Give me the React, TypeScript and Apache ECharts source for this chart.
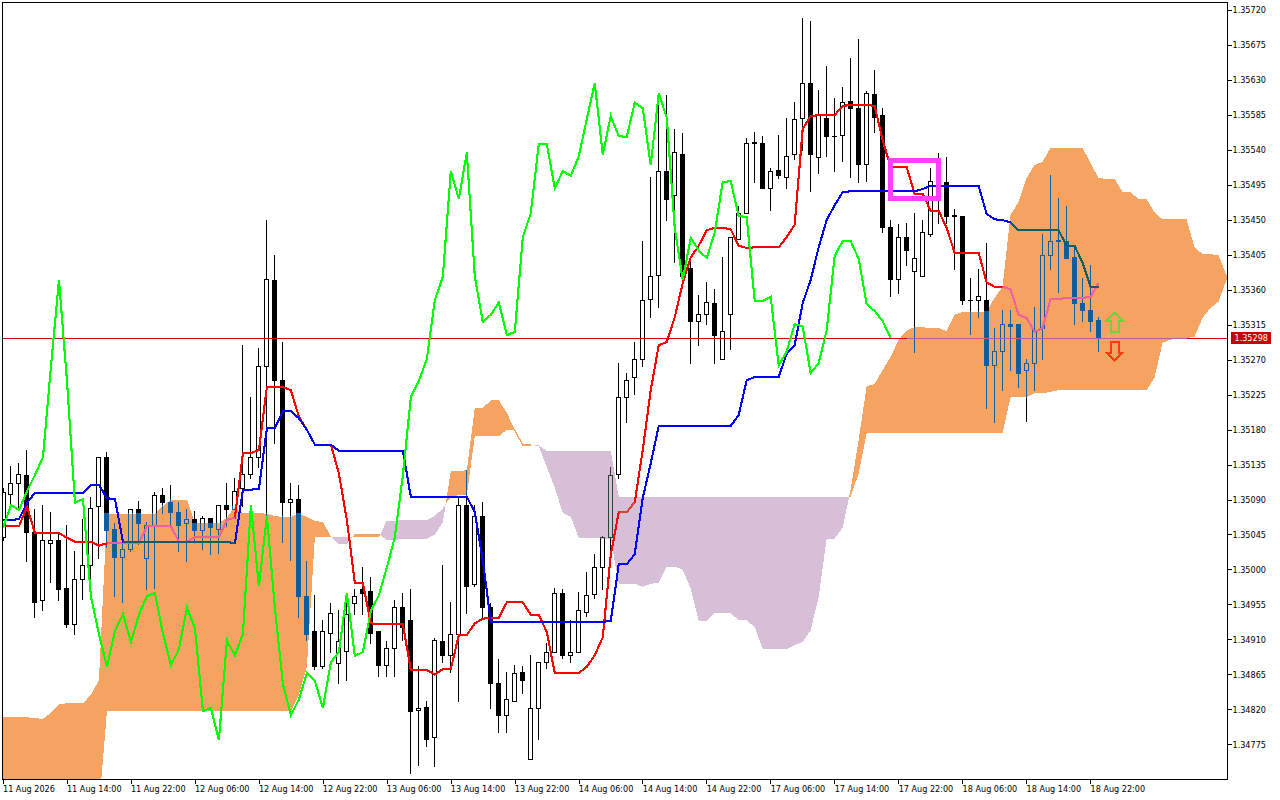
import React, { useEffect, useRef } from "react";
import * as echarts from "echarts";

// All price arrays are in points: price = 1 + value / 100000 (35042 is 1.35042).
const opensPts = [
  35042,35097,35111,35121,35048,34960,35034,35037,34976,34929,
  34988,35006,35081,35145,35052,35016,35026,35078,35015,35057,
  35096,35087,35074,35059,35064,35050,35066,35052,35083,35078,
  35104,35122,35145,35261,35372,35243,35086,35090,34966,34920,
  34875,34918,34879,34895,34957,34975,34972,34920,34877,34898,
  34951,34935,34819,34823,34784,34908,34890,34917,35083,34981,
  35069,34952,34854,34813,34831,34868,34756,34821,34881,34894,
  34970,34889,34894,34945,34968,35003,35042,35122,35222,35247,
  35271,35348,35379,35513,35482,35535,35388,35320,35328,35343,
  35271,35328,35425,35459,35550,35549,35491,35514,35505,35534,
  35581,35626,35531,35581,35558,35559,35602,35594,35522,35612,
  35584,35440,35373,35427,35384,35377,35432,35498,35498,35456,
  35455,35347,35346,35347,35263,35281,35316,35316,35256,35266,
  35310,35405,35424,35423,35402,35342,35334,35321,
];
const highsPts = [
  35105,35133,35137,35154,35078,35082,35073,35048,35057,35023,
  35065,35093,35145,35151,35060,35034,35078,35088,35061,35099,
  35104,35109,35087,35077,35075,35069,35066,35083,35111,35118,
  35289,35222,35285,35449,35405,35293,35111,35109,35011,34967,
  34934,34957,34947,34967,34974,35003,34990,34920,34908,34961,
  34970,34974,34875,34831,34911,35005,34958,35093,35128,35083,
  35087,34957,34885,34868,34877,34876,34890,34881,34905,34976,
  34974,34935,34971,34996,35020,35043,35131,35266,35253,35292,
  35423,35505,35601,35610,35567,35562,35396,35353,35369,35361,
  35402,35428,35468,35555,35563,35558,35517,35559,35581,35601,
  35709,35706,35617,35647,35606,35620,35658,35683,35615,35643,
  35594,35449,35444,35446,35459,35450,35516,35536,35531,35464,
  35455,35375,35387,35420,35310,35334,35333,35316,35271,35338,
  35432,35507,35478,35468,35417,35375,35392,35324,
];
const lowsPts = [
  35038,35081,35077,35010,34939,34947,34983,34960,34926,34916,
  34962,34983,35014,35029,34965,34958,35023,35032,34975,34976,
  35072,35056,35023,35011,35035,35026,35019,35021,35055,35078,
  35081,35117,35132,35070,35163,35035,35012,34939,34909,34871,
  34873,34894,34854,34858,34942,34942,34905,34862,34862,34862,
  34909,34738,34748,34772,34747,34880,34868,34830,34943,34978,
  34936,34822,34790,34790,34830,34841,34756,34782,34873,34894,
  34886,34881,34893,34940,34963,34975,35025,35118,35190,35225,
  35261,35324,35337,35450,35395,35373,35266,35289,35315,35266,
  35270,35283,35425,35459,35498,35490,35462,35503,35491,35528,
  35540,35487,35510,35532,35512,35525,35505,35498,35499,35563,
  35434,35352,35355,35391,35279,35377,35429,35446,35446,35386,
  35341,35303,35324,35207,35189,35230,35257,35235,35191,35230,
  35270,35386,35357,35400,35316,35319,35306,35281,
];
const closesPts = [
  35099,35111,35122,35048,34958,35037,35038,34975,34929,34988,
  35005,35079,35145,35050,35016,35026,35078,35059,35057,35096,
  35086,35073,35057,35064,35050,35066,35054,35083,35077,35101,
  35122,35145,35262,35373,35243,35086,35091,34965,34917,34875,
  34921,34943,34907,34942,34966,34970,34918,34877,34898,34951,
  34925,34818,34822,34781,34909,34890,34917,35083,34979,35069,
  34951,34853,34813,34833,34867,34857,34822,34881,34894,34970,
  34889,34894,34947,34967,35003,35042,35121,35222,35243,35271,
  35347,35377,35513,35477,35537,35377,35319,35328,35344,35302,
  35306,35428,35459,35548,35548,35491,35513,35507,35532,35580,
  35626,35534,35584,35558,35557,35601,35594,35521,35613,35582,
  35440,35373,35427,35411,35401,35434,35499,35500,35455,35454,
  35346,35346,35351,35263,35281,35316,35313,35253,35266,35308,
  35404,35423,35423,35400,35342,35333,35320,35298,
];
const tenkanPts = [
  35056,35056,35056,35081,35047,35047,35047,35047,35041,35036,
  35036,35036,35031,35034,35034,35034,35034,35034,35056,35056,
  35056,35056,35036,35036,35042,35042,35042,35042,35064,35067,
  35150,35150,35154,35235,35235,35235,35231,35197,35180,35161,
  35161,35161,35124,35064,34983,34983,34931,34930,34930,34930,
  34930,34871,34871,34871,34865,34872,34872,34916,34916,34931,
  34937,34938,34938,34958,34958,34958,34942,34942,34920,34867,
  34867,34867,34867,34875,34890,34913,35019,35074,35074,35087,
  35154,35231,35289,35293,35325,35369,35402,35417,35437,35440,
  35440,35438,35417,35414,35415,35415,35415,35415,35428,35444,
  35567,35584,35585,35585,35585,35597,35598,35598,35598,35597,
  35553,35518,35518,35518,35484,35484,35462,35462,35440,35408,
  35408,35408,35408,35370,35364,35364,35361,35328,35324,35306,
  35311,35348,35348,35350,35350,35350,35351,35369,
];
const kijunPts = [
  35064,35064,35065,35086,35099,35099,35099,35099,35099,35099,
  35099,35109,35109,35092,35091,35036,35036,35036,35036,35036,
  35036,35036,35036,35036,35036,35036,35036,35036,35036,35034,
  35103,35103,35104,35182,35182,35204,35204,35195,35180,35161,
  35161,35161,35153,35153,35153,35153,35153,35153,35153,35153,
  35153,35094,35094,35094,35094,35094,35094,35094,35094,35074,
  35012,34933,34933,34933,34933,34933,34933,34933,34933,34933,
  34933,34933,34933,34933,34933,34933,34934,35007,35007,35020,
  35092,35137,35185,35185,35185,35185,35185,35185,35185,35185,
  35185,35185,35199,35244,35248,35248,35248,35248,35278,35289,
  35343,35373,35415,35450,35469,35486,35487,35487,35487,35487,
  35487,35487,35487,35487,35487,35490,35494,35494,35494,35494,
  35494,35494,35494,35458,35451,35450,35447,35437,35437,35437,
  35437,35437,35437,35417,35417,35395,35364,35364,
];
const spanAPts = [
  34810,34810,34810,34810,34809,34808,34816,34827,34828,34828,
  34828,34839,34858,35072,35072,35072,35072,35072,35072,35072,
  35082,35090,35090,35090,35060,35060,35060,35060,35067,35081,
  35073,35073,35073,35072,35069,35068,35068,35072,35068,35063,
  35061,35043,35033,35033,35046,35046,35046,35046,35038,35038,
  35040,35040,35040,35040,35045,35061,35127,35127,35128,35208,
  35208,35218,35218,35202,35180,35161,35161,35159,35132,35106,
  35073,35068,35041,35041,35041,35040,35040,34982,34982,34982,
  34978,34982,34983,35004,35004,35000,34976,34934,34934,34944,
  34944,34944,34935,34935,34926,34898,34898,34898,34898,34903,
  34907,34922,34965,35040,35040,35054,35103,35167,35236,35239,
  35257,35274,35296,35308,35312,35312,35311,35311,35307,35328,
  35332,35332,35332,35332,35350,35364,35457,35473,35504,35521,
  35525,35543,35543,35543,35543,35543,35523,35504,35503,35503,
  35486,35486,35477,35477,35460,35451,35451,35451,35451,35415,
  35406,35406,35405,35379,
];
const spanBPts = [
  34688,34688,34688,34688,34688,34688,34688,34688,34688,34688,
  34688,34688,34693,34818,34818,34818,34818,34818,34818,34818,
  34818,34818,34818,34818,34818,34818,34818,34818,34818,34818,
  34818,34818,34818,34818,34818,34818,34818,34839,34875,35042,
  35042,35042,35042,35042,35042,35042,35042,35042,35063,35063,
  35064,35064,35064,35064,35069,35079,35094,35096,35096,35172,
  35172,35172,35172,35180,35179,35160,35160,35160,35153,35153,
  35153,35153,35153,35153,35153,35153,35153,35094,35094,35094,
  35094,35094,35094,35094,35094,35094,35094,35094,35094,35094,
  35094,35094,35094,35094,35094,35094,35094,35094,35094,35094,
  35094,35094,35094,35094,35094,35094,35094,35124,35176,35176,
  35176,35176,35176,35176,35176,35176,35176,35176,35176,35176,
  35176,35176,35176,35176,35176,35176,35222,35222,35222,35227,
  35227,35229,35231,35231,35231,35231,35231,35231,35231,35231,
  35231,35231,35231,35231,35247,35292,35296,35298,35298,35300,
  35324,35337,35345,35373,
];
const yTickPts = [
  35720,35675,35630,35585,35540,35495,35450,35405,35360,35315,35270,
  35225,35180,35135,35090,35045,35000,34955,34910,34865,34820,34775,
];
const xTickLabels = [
  "11 Aug 2026","11 Aug 14:00","11 Aug 22:00","12 Aug 06:00","12 Aug 14:00","12 Aug 22:00",
  "13 Aug 06:00","13 Aug 14:00","13 Aug 22:00","14 Aug 06:00","14 Aug 14:00","14 Aug 22:00",
  "17 Aug 06:00","17 Aug 14:00","17 Aug 22:00","18 Aug 06:00","18 Aug 14:00","18 Aug 22:00",
];
const lastPricePts = 35298;
const highlightBox = { from: 111, to: 117, top: 35527, bottom: 35478 };
const upArrow = { at: 139, tip: 35331 };
const downArrow = { at: 139, tip: 35269 };

const toPrice = (v: number) => 1 + v / 100000;
const opens = opensPts.map(toPrice);
const highs = highsPts.map(toPrice);
const lows = lowsPts.map(toPrice);
const closes = closesPts.map(toPrice);
const tenkan = tenkanPts.map(toPrice);
const kijun = kijunPts.map(toPrice);
const spanA = spanAPts.map(toPrice);
const spanB = spanBPts.map(toPrice);
const chikou = closes.slice(26);
const yTicks = yTickPts.map(toPrice);
const lastPrice = toPrice(lastPricePts);
const BARS = spanA.length;
const categories = spanA.map((_, i) => String(i));

const ORANGE = "#F4A460";
const THISTLE = "#D8BFD8";
const FONT = "'DejaVu Sans Condensed', 'DejaVu Sans', sans-serif";
const LINE_W = 2.1;

const zoneAt = (i: number, price: number) => {
  const a = spanA[i];
  const b = spanB[i];
  if (price <= Math.max(a, b) && price >= Math.min(a, b)) return a >= b ? "orange" : "thistle";
  return null;
};
const inZone = (vals: number[], zone: string) =>
  vals.map((v, i) => (zoneAt(i, v) === zone ? v : null));

const lineSeries = (name: string, data: any[], color: string, width: number, z: number) => ({
  name,
  type: "line",
  data,
  z,
  silent: true,
  symbol: "none",
  showSymbol: false,
  connectNulls: false,
  lineStyle: { color, width, cap: "butt", join: "miter" },
});

function renderCloud(_: any, api: any) {
  const i = api.value(0);
  const a0 = spanA[i], b0 = spanB[i], a1 = spanA[i + 1], b1 = spanB[i + 1];
  const P = (k: number, v: number) => api.coord([k, v]);
  const poly = (pts: number[][], color: string, thin: boolean) => ({
    type: "polygon",
    shape: { points: pts },
    style: { fill: color, stroke: thin ? color : "none", lineWidth: thin ? 1 : 0 },
  });
  const d0 = a0 - b0, d1 = a1 - b1;
  const thin = Math.abs(d0) < 0.00004 && Math.abs(d1) < 0.00004;
  if (d0 * d1 < 0) {
    const t = d0 / (d0 - d1);
    const p0 = P(i, a0), p1 = P(i, b0), q0 = P(i + 1, a1), q1 = P(i + 1, b1);
    const mx = p0[0] + (q0[0] - p0[0]) * t;
    const my = p0[1] + (q0[1] - p0[1]) * t;
    return {
      type: "group",
      children: [
        poly([p0, [mx, my], p1], d0 > 0 ? ORANGE : THISTLE, false),
        poly([[mx, my], q0, q1], d1 > 0 ? ORANGE : THISTLE, false),
      ],
    };
  }
  const color = d0 + d1 >= 0 ? ORANGE : THISTLE;
  return poly([P(i, a0), P(i + 1, a1), P(i + 1, b1), P(i, b0)], color, thin);
}

function renderCandle(_: any, api: any) {
  const i = api.value(0);
  const o = opens[i], c = closes[i], l = lows[i], h = highs[i];
  const Y = (v: number) => Math.round(api.coord([i, v])[1] - 0.5);
  const px = Math.floor(api.coord([i, o])[0]);
  const cloudTop = Y(Math.max(spanA[i], spanB[i]));
  const cloudBot = Y(Math.min(spanA[i], spanB[i])) + 1;
  const inside = spanA[i] >= spanB[i] ? "#0F5FA0" : "#2C4236";
  const kids: any[] = [];
  const rect = (x: number, y: number, w: number, hgt: number, fill: string) => {
    if (hgt > 0) kids.push({ type: "rect", shape: { x, y, width: w, height: hgt }, style: { fill, stroke: "none" } });
  };
  const column = (x: number, w: number, y0: number, y1: number) => {
    rect(x, y0, w, Math.min(y1, cloudTop) - y0, "#000");
    const a = Math.max(y0, cloudTop), b = Math.min(y1, cloudBot);
    rect(x, a, w, b - a, inside);
    const s = Math.max(y0, cloudBot);
    rect(x, s, w, y1 - s, "#000");
  };
  const bodyTop = Y(Math.max(o, c));
  const bodyBot = Math.max(Y(Math.min(o, c)) + 1, bodyTop + 1);
  column(px, 1, Y(h), bodyTop);
  column(px, 1, bodyBot, Y(l) + 1);
  if (c < o) {
    column(px - 2, 5, bodyTop, bodyBot);
  } else {
    column(px - 2, 1, bodyTop, bodyBot);
    column(px + 2, 1, bodyTop, bodyBot);
    column(px - 1, 3, bodyTop, bodyTop + 1);
    column(px - 1, 3, bodyBot - 1, bodyBot);
  }
  return { type: "group", children: kids };
}

function renderBox(_: any, api: any) {
  const p0 = api.coord([api.value(0), api.value(2)]);
  const p1 = api.coord([api.value(1), api.value(3)]);
  return {
    type: "rect",
    shape: { x: p0[0], y: p0[1], width: p1[0] - p0[0], height: p1[1] - p0[1] },
    style: { fill: "none", stroke: "#FF40FF", lineWidth: 5 },
  };
}

function renderArrow(_: any, api: any) {
  const p = api.coord([api.value(0), api.value(1)]);
  const s = api.value(2);
  const x = p[0], y = p[1];
  const pts = [
    [x, y], [x + 8, y + 8 * s], [x + 4, y + 8 * s], [x + 4, y + 19 * s],
    [x - 4, y + 19 * s], [x - 4, y + 8 * s], [x - 8, y + 8 * s],
  ];
  return {
    type: "polygon",
    shape: { points: pts },
    style: { fill: "none", stroke: s > 0 ? "#66D63C" : "#FF3A14", lineWidth: 2 },
  };
}

export default function App() {
  const ref = useRef<HTMLDivElement>(null);
  useEffect(() => {
    document.body.style.margin = "0";
    const chart = echarts.init(ref.current!, undefined, { renderer: "svg" });
    const xShown = (idx: number) => idx % 8 === 0 && idx / 8 < xTickLabels.length;
    chart.setOption({
      animation: false,
      backgroundColor: "#fff",
      grid: { left: 2.5, top: 2.5, width: 1224, height: 777, containLabel: false },
      xAxis: {
        type: "category",
        data: categories,
        boundaryGap: false,
        axisLine: { show: false },
        axisTick: { show: true, length: 4, interval: (idx: number) => xShown(idx), lineStyle: { color: "#000", width: 1 } },
        axisLabel: {
          interval: (idx: number) => xShown(idx),
          align: "left",
          margin: 5,
          color: "#000",
          fontFamily: FONT,
          fontSize: 9,
          formatter: (_: string, idx: number) => xTickLabels[idx / 8] ?? "",
        },
        splitLine: { show: false },
      },
      yAxis: {
        type: "value",
        position: "right",
        offset: 1,
        min: 1.3473,
        max: 1.3573,
        axisLine: { show: false },
        axisTick: { show: true, length: 4, customValues: yTicks, lineStyle: { color: "#000", width: 1 } },
        axisLabel: {
          customValues: yTicks,
          margin: 5,
          color: "#000",
          fontFamily: FONT,
          fontSize: 9,
          padding: [2, 0, 0, 0],
          formatter: (v: number) => v.toFixed(5),
        },
        splitLine: { show: false },
      },
      graphic: [
        {
          type: "rect",
          z: 100,
          silent: true,
          shape: { x: 2.5, y: 2.5, width: 1225, height: 777 },
          style: { fill: "none", stroke: "#000", lineWidth: 1 },
        },
      ],
      series: [
        {
          name: "Cloud",
          type: "custom",
          coordinateSystem: "cartesian2d",
          z: 1,
          clip: true,
          silent: true,
          renderItem: renderCloud,
          data: spanA.slice(0, BARS - 1).map((v, i) => [i, v, spanB[i]]),
          encode: { x: 0, y: [1, 2] },
        },
        {
          name: "Candles",
          type: "custom",
          coordinateSystem: "cartesian2d",
          z: 2,
          clip: true,
          silent: true,
          renderItem: renderCandle,
          data: opens.map((v, i) => [i, v, closes[i], lows[i], highs[i]]),
          encode: { x: 0, y: [1, 2, 3, 4] },
        },
        {
          ...lineSeries("Last price", spanA.map(() => lastPrice), "#D00000", 1, 3),
          endLabel: {
            show: true,
            formatter: () => lastPrice.toFixed(5),
            color: "#fff",
            backgroundColor: "#C80000",
            fontFamily: FONT,
            fontSize: 9,
            padding: [2, 3, 1, 4],
            distance: 4,
          },
        },
        lineSeries("Last price in cloud", inZone(spanA.map(() => lastPrice), "orange"), "#B060A8", 1, 3),
        lineSeries("Tenkan-sen", tenkan, "#FF0000", LINE_W, 4),
        lineSeries("Tenkan-sen in cloud", inZone(tenkan, "orange"), "#F0609E", LINE_W, 4),
        lineSeries("Tenkan-sen in thistle", inZone(tenkan, "thistle"), "#D84030", LINE_W, 4),
        lineSeries("Kijun-sen", kijun, "#0000FF", LINE_W, 5),
        lineSeries("Kijun-sen in cloud", inZone(kijun, "orange"), "#0F5F60", LINE_W, 5),
        lineSeries("Chikou span", chikou, "#00FF00", LINE_W, 6),
        {
          name: "Highlight",
          type: "custom",
          coordinateSystem: "cartesian2d",
          z: 7,
          clip: false,
          silent: true,
          renderItem: renderBox,
          data: [[highlightBox.from, highlightBox.to, toPrice(highlightBox.top), toPrice(highlightBox.bottom)]],
          encode: { x: [0, 1], y: [2, 3] },
        },
        {
          name: "Signals",
          type: "custom",
          coordinateSystem: "cartesian2d",
          z: 8,
          silent: true,
          renderItem: renderArrow,
          data: [
            [upArrow.at, toPrice(upArrow.tip), 1],
            [downArrow.at, toPrice(downArrow.tip), -1],
          ],
          encode: { x: 0, y: 1 },
        },
      ],
    });
    return () => chart.dispose();
  }, []);
  return (
    <div
      ref={ref}
      style={{ width: 1280, height: 800, shapeRendering: "crispEdges", background: "#fff" } as any}
    />
  );
}
